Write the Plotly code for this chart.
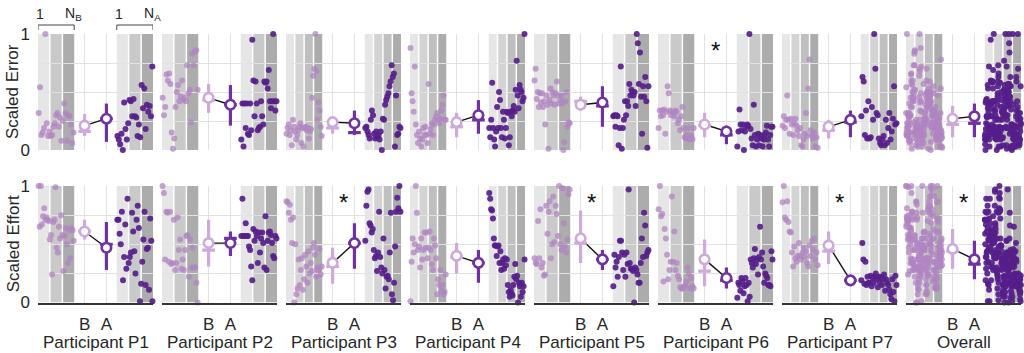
import plotly.graph_objects as go

# ---------------- data ----------------
panel_names = ["Participant P1", "Participant P2", "Participant P3", "Participant P4",
               "Participant P5", "Participant P6", "Participant P7", "Overall"]
n_bands = [3, 3, 4, 4, 3, 3, 4, 4]
row_titles = ["Scaled Error", "Scaled Effort"]
cond_labels = ["B", "A"]

# Scaled Error, individual trials (B = before, A = after)
err_b_p1 = [0.32,0.54,0.13,0.15,0.19,1.0,0.23,0.12,0.16,0.12,0.13,0.20,0.23,0.30,0.32,0.20,0.28,0.08,0.25,0.40,0.32,0.08,0.30,0.29,0.22,0.06,0.15]
err_a_p1 = [0.12,0.09,0.05,0.14,0.0,0.41,0.18,0.09,0.23,0.43,0.42,0.29,0.44,0.29,0.28,0.12,0.22,0.11,0.56,0.36,0.53,0.18,0.39,0.33,0.38,0.29,0.72]
err_b_p2 = [0.45,0.30,0.37,0.65,0.60,0.66,0.57,0.15,0.01,0.10,0.37,0.50,0.56,0.42,0.46,0.60,0.43,0.45,0.42,0.73,0.49,0.52,0.24,0.83,0.73,0.85,0.86,0.52]
err_a_p2 = [0.09,0.40,0.03,0.40,0.19,0.40,0.14,0.13,0.40,0.17,0.95,0.60,0.29,0.59,0.40,0.17,0.19,0.20,0.42,0.29,0.22,0.59,0.58,0.59,0.53,0.69,0.42,0.36,0.42,1.0,0.42,0.34,0.42]
err_b_p3 = [0.14,0.19,0.22,0.13,0.17,0.04,0.26,0.20,0.16,0.09,0.13,0.17,0.20,0.23,0.06,0.19,0.03,0.19,0.20,0.17,0.19,0.10,0.16,0.18,0.45,0.64,0.70,1.0,0.68,0.26,0.41,0.34,0.20,0.12]
err_a_p3 = [0.19,0.20,0.16,0.13,0.10,0.26,0.34,0.30,0.14,0.10,0.16,0.11,0.13,0.09,0.16,0.0,0.27,0.26,0.39,0.43,0.46,0.49,0.55,0.59,0.73,0.63,0.66,0.03,0.47,0.13,0.14,0.20,0.19]
err_b_p4 = [0.88,0.49,0.42,0.33,0.72,0.22,0.13,0.06,0.16,0.10,0.03,0.09,0.19,0.13,0.20,0.13,0.06,0.57,0.14,0.18,0.23,0.13,0.22,0.26,0.29,0.32,0.26,0.23,0.27,0.34,0.39,0.47,0.26,0.26]
err_a_p4 = [0.19,0.11,0.26,0.58,0.19,0.09,0.03,0.16,0.37,0.19,0.50,0.43,0.19,0.11,0.33,0.26,0.10,0.19,0.33,0.32,0.04,0.11,0.33,0.29,0.34,0.38,0.33,0.52,0.77,0.47,0.36,0.56,0.52,0.50,0.42,0.45,1.0]
err_b_p5 = [0.60,0.70,0.44,0.50,0.37,0.49,0.41,0.49,0.37,0.42,0.22,0.47,0.39,0.01,0.43,0.53,0.40,0.50,0.47,0.39,0.49,0.59,0.47,0.40,0.43,0.47,0.40,0.0,0.07,0.42,0.50,0.20,0.24,0.23]
err_a_p5 = [0.29,0.30,0.20,0.30,0.29,0.04,0.19,0.72,0.01,0.19,0.26,0.42,0.30,0.42,0.38,0.57,0.47,0.52,0.50,0.47,0.50,0.38,1.0,0.92,0.57,0.84,0.46,0.14,0.55,0.46,0.63,0.42,0.02,0.55]
err_b_p6 = [0.19,0.34,0.29,0.34,0.30,0.35,0.14,0.33,0.55,0.49,0.34,0.30,0.33,0.32,0.29,0.34,0.33,0.23,0.26,0.17,0.29,0.37,0.19,0.11,0.10,0.13,0.19,0.09,0.10,0.12,0.09,0.19]
err_a_p6 = [0.03,0.16,0.35,0.22,0.17,0.22,0.0,0.16,0.20,0.22,0.21,1.0,0.18,0.10,0.04,0.39,0.13,0.03,0.09,0.14,0.04,0.13,0.10,0.03,0.09,0.13,0.15,0.21,0.09,0.03,0.13,0.20,0.20]
err_b_p7 = [0.21,0.29,0.19,0.26,0.47,0.26,0.14,0.27,0.22,0.13,0.23,0.27,0.21,0.17,0.12,0.19,0.04,0.03,0.09,0.14,0.32,0.12,0.53,0.78,0.17,0.13,0.10,0.15,0.03,0.11,0.02]
err_a_p7 = [0.29,0.63,0.59,0.13,0.34,0.10,0.42,0.10,0.11,0.37,0.26,1.0,0.70,0.32,0.30,0.10,0.06,0.04,0.09,0.12,0.04,0.26,0.06,0.19,0.32,0.09,0.16,0.27,0.55,0.22,0.23]

# Scaled Effort, individual trials
eff_b_p1 = [1.0,0.65,1.0,0.67,0.74,0.81,0.71,0.73,0.71,0.70,0.54,0.58,0.24,0.69,0.71,0.99,0.47,0.43,0.65,0.55,0.75,0.58,0.27,0.57,0.64,0.50,0.34,0.62,0.38,0.64,0.62,0.53]
eff_a_p1 = [0.71,0.71,0.59,0.50,0.78,0.19,0.39,0.67,0.29,0.89,0.34,0.39,0.43,0.77,0.61,0.44,0.25,0.71,0.83,0.64,0.01,0.16,0.35,0.54,0.78,0.15,0.46,0.47,0.11,0.72,0.53,0.01]
eff_b_p2 = [1.0,0.94,0.37,0.78,0.77,0.35,0.78,0.33,0.34,0.71,0.28,0.34,0.73,0.45,0.54,0.29,0.37,0.28,0.45,0.57,0.58,0.22,0.54,0.30,0.47,0.30,0.30,0.17,0.0]
eff_a_p2 = [0.57,0.89,0.57,0.57,0.68,0.57,0.57,0.48,0.45,0.31,0.19,0.63,0.53,0.61,0.57,0.34,0.60,0.43,0.55,0.60,0.51,0.30,0.74,0.28,0.53,0.60,0.61,0.58,0.51,0.40,0.38,0.57,0.55]
eff_b_p3 = [0.87,0.86,0.77,0.84,0.71,0.51,0.73,0.0,0.50,0.07,0.12,0.37,0.15,0.28,0.38,0.11,0.20,0.41,0.31,0.17,0.44,0.25,0.34,0.27,0.47,0.51,0.41,0.22,0.30,0.28,0.46,0.24,0.31]
eff_a_p3 = [0.53,0.83,0.95,0.97,0.68,0.66,0.60,0.63,0.45,0.38,0.40,0.27,0.43,0.78,0.39,0.30,0.25,0.55,0.28,0.12,0.22,0.23,0.20,0.43,0.77,0.07,0.02,0.17,0.48,0.78,0.90,0.81,1.0,0.78]
eff_b_p4 = [0.01,0.35,0.55,0.43,0.50,1.0,0.77,0.45,0.48,0.30,0.55,0.37,0.45,0.60,0.47,0.60,0.38,0.47,0.61,0.45,0.33,0.28,0.55,0.49,0.38,0.07,0.20,0.15,0.28,0.10,0.15,0.07,0.09,0.24]
eff_a_p4 = [0.94,0.89,0.80,0.79,0.72,0.55,0.49,0.49,0.40,0.48,0.49,0.34,0.44,0.28,0.34,0.37,0.29,0.38,0.32,0.37,0.15,0.09,0.05,0.11,0.08,0.06,0.15,0.22,0.33,0.20,0.23,0.0,0.17,0.14,0.05,0.17,0.09,0.14,0.37]
eff_b_p5 = [0.38,0.34,0.33,0.70,0.38,0.80,0.30,0.34,0.23,0.24,0.83,0.59,0.78,0.87,0.38,0.50,0.91,0.52,0.83,0.76,0.57,1.0,0.50,0.45,0.98,0.68,0.48,0.43,0.54,0.93,0.97]
eff_a_p5 = [0.14,0.41,0.30,0.35,0.22,0.39,0.53,0.53,0.43,0.28,0.41,0.22,0.43,0.33,0.97,0.34,0.29,0.29,0.27,0.0,0.30,0.28,0.24,0.17,0.17,0.34,0.55,0.39,0.77,0.66,0.40,0.43,0.45]
eff_b_p6 = [0.80,1.0,0.74,0.76,0.18,0.63,0.55,0.41,0.20,0.28,0.35,0.91,0.35,0.61,0.28,0.34,0.23,0.20,0.13,0.12,0.12,0.14,0.14,0.18,0.30,0.25,0.12,0.21,0.14,0.12]
eff_a_p6 = [0.04,0.17,0.15,0.10,0.21,0.18,0.08,0.14,0.21,0.15,0.01,0.17,0.05,0.37,0.34,0.30,0.38,0.46,0.33,0.37,0.24,0.39,0.65,0.37,0.43,0.31,0.17,0.25,0.23,0.21,0.15,0.15,0.14,0.44,0.37]
eff_b_p7 = [0.86,1.0,0.73,0.71,0.87,0.69,0.61,0.60,0.43,0.31,0.48,0.38,0.35,0.40,0.51,0.40,0.37,0.43,0.47,0.39,0.44,0.34,0.31,0.49,0.40,0.53,0.45,0.55,0.37,0.43,0.32]
eff_a_p7 = [0.19,0.51,0.37,0.16,0.35,0.15,0.22,0.17,0.17,0.23,0.14,0.21,0.17,0.22,0.25,0.20,0.13,0.22,0.17,0.22,0.15,0.20,0.24,0.10,0.20,0.17,0.15,0.11,0.07,0.03,0.20,0.09,0.01,0.23,0.15]

# Summary statistics per panel (P1..P7, Overall): mean (circle), median (bar), spread (line)
err_mean_b = [0.21, 0.45, 0.24, 0.24, 0.39, 0.22, 0.20, 0.27]
err_med_b  = [0.16, 0.43, 0.19, 0.20, 0.42, 0.21, 0.17, 0.22]
err_lo_b   = [0.12, 0.32, 0.14, 0.11, 0.34, 0.11, 0.10, 0.11]
err_hi_b   = [0.31, 0.57, 0.26, 0.32, 0.46, 0.32, 0.26, 0.38]
err_mean_a = [0.27, 0.39, 0.23, 0.30, 0.41, 0.16, 0.26, 0.29]
err_med_a  = [0.27, 0.39, 0.15, 0.26, 0.38, 0.13, 0.24, 0.23]
err_lo_a   = [0.07, 0.21, 0.13, 0.14, 0.20, 0.05, 0.11, 0.11]
err_hi_a   = [0.40, 0.56, 0.34, 0.43, 0.55, 0.21, 0.34, 0.40]

eff_mean_b = [0.61, 0.51, 0.34, 0.40, 0.55, 0.37, 0.49, 0.46]
eff_med_b  = [0.61, 0.45, 0.31, 0.39, 0.51, 0.27, 0.44, 0.44]
eff_lo_b   = [0.54, 0.31, 0.16, 0.25, 0.34, 0.14, 0.33, 0.29]
eff_hi_b   = [0.71, 0.71, 0.47, 0.51, 0.79, 0.54, 0.61, 0.63]
eff_mean_a = [0.47, 0.51, 0.51, 0.34, 0.37, 0.21, 0.19, 0.37]
eff_med_a  = [0.50, 0.55, 0.51, 0.34, 0.37, 0.19, 0.19, 0.33]
eff_lo_a   = [0.28, 0.40, 0.29, 0.17, 0.28, 0.12, 0.17, 0.20]
eff_hi_a   = [0.69, 0.61, 0.68, 0.45, 0.45, 0.30, 0.21, 0.53]

err_sig = [0, 0, 0, 0, 0, 1, 0, 0]
eff_sig = [0, 0, 1, 0, 1, 0, 1, 1]

# ---------------- assemble ----------------
err_b = [err_b_p1, err_b_p2, err_b_p3, err_b_p4, err_b_p5, err_b_p6, err_b_p7]
err_a = [err_a_p1, err_a_p2, err_a_p3, err_a_p4, err_a_p5, err_a_p6, err_a_p7]
eff_b = [eff_b_p1, eff_b_p2, eff_b_p3, eff_b_p4, eff_b_p5, eff_b_p6, eff_b_p7]
eff_a = [eff_a_p1, eff_a_p2, eff_a_p3, eff_a_p4, eff_a_p5, eff_a_p6, eff_a_p7]
# Overall = all participants' trials pooled
err_b = err_b + [sum(err_b, [])]
err_a = err_a + [sum(err_a, [])]
eff_b = eff_b + [sum(eff_b, [])]
eff_a = eff_a + [sum(eff_a, [])]

rows = [
    dict(b=err_b, a=err_a, mb=err_mean_b, db=err_med_b, lb=err_lo_b, hb=err_hi_b,
         ma=err_mean_a, da=err_med_a, la=err_lo_a, ha=err_hi_a, sig=err_sig),
    dict(b=eff_b, a=eff_a, mb=eff_mean_b, db=eff_med_b, lb=eff_lo_b, hb=eff_hi_b,
         ma=eff_mean_a, da=eff_med_a, la=eff_lo_a, ha=eff_hi_a, sig=eff_sig),
]

# ---------------- layout constants ----------------
W, H = 1024, 353
FONT = "Liberation Sans, Arial, Helvetica, sans-serif"
TXT = "#262626"
left_px = [38 + 124 * i for i in range(8)]
panel_w = 115
row_px = [(34, 150), (186, 302.5)]
XB, XA = 4.05, 5.95
B_REG = (0.0, 3.15)
A_REG = (6.85, 10.0)
GAP = 0.13
PT_B = "rgba(176,132,194,0.75)"
PT_A = "rgba(86,30,138,0.92)"
SUM_B = "#cfa9dc"
SUM_A = "#7032a3"
FS = 17

def ydom(r):
    t, b = row_px[r]
    return [1 - b / H, 1 - t / H]

def gray(i, n):
    lo, hi = 230, 172
    v = round(lo + (hi - lo) * (i / (n - 1) if n > 1 else 0))
    return f"rgb({v},{v},{v})"

def spread(vals, reg):
    n = len(vals)
    s, e = reg
    return [s + (i + 0.5) / n * (e - s) for i in range(n)]

fig = go.Figure()
shapes = []
annotations = []
layout_axes = {}

for r in range(2):
    d = rows[r]
    for p in range(8):
        k = r * 8 + p + 1
        xs = "x" if k == 1 else f"x{k}"
        ys = "y" if k == 1 else f"y{k}"
        # bands
        for reg in (B_REG, A_REG):
            n = n_bands[p]
            bw = (reg[1] - reg[0] - (n - 1) * GAP) / n
            for i in range(n):
                x0 = reg[0] + i * (bw + GAP)
                shapes.append(dict(type="rect", xref=xs, yref=ys, x0=x0, x1=x0 + bw,
                                   y0=0, y1=1, fillcolor=gray(i, n), line=dict(width=0),
                                   layer="below"))
        # individual trials
        fig.add_trace(go.Scatter(x=spread(d["b"][p], B_REG), y=d["b"][p], mode="markers",
                                 marker=dict(size=6, color=PT_B, line=dict(width=0)),
                                 xaxis=xs, yaxis=ys, cliponaxis=False, hoverinfo="y"))
        fig.add_trace(go.Scatter(x=spread(d["a"][p], A_REG), y=d["a"][p], mode="markers",
                                 marker=dict(size=6, color=PT_A, line=dict(width=0)),
                                 xaxis=xs, yaxis=ys, cliponaxis=False, hoverinfo="y"))
        # connecting line
        fig.add_trace(go.Scatter(x=[XB, XA], y=[d["mb"][p], d["ma"][p]], mode="lines",
                                 line=dict(color="#111111", width=1.4),
                                 xaxis=xs, yaxis=ys, hoverinfo="skip"))
        # spread + median bars
        for xc, lo, hi, med, col in ((XB, d["lb"][p], d["hb"][p], d["db"][p], SUM_B),
                                     (XA, d["la"][p], d["ha"][p], d["da"][p], SUM_A)):
            fig.add_trace(go.Scatter(x=[xc, xc, None, xc - 0.55, xc + 0.55],
                                     y=[lo, hi, None, med, med], mode="lines",
                                     line=dict(color=col, width=3.2),
                                     xaxis=xs, yaxis=ys, hoverinfo="skip"))
        # mean circles
        fig.add_trace(go.Scatter(x=[XB, XA], y=[d["mb"][p], d["ma"][p]], mode="markers",
                                 marker=dict(size=9.5, color="white",
                                             line=dict(width=2.6, color=[SUM_B, SUM_A])),
                                 xaxis=xs, yaxis=ys, hoverinfo="y"))
        # axes
        xd = [left_px[p] / W, (left_px[p] + panel_w) / W]
        layout_axes["xaxis" if k == 1 else f"xaxis{k}"] = dict(
            domain=xd, range=[0, 10], anchor=ys, tickvals=[XB, XA], ticktext=cond_labels,
            showticklabels=(r == 1), ticks="", showgrid=True, gridcolor="#e2e2e2",
            gridwidth=1, zeroline=False, showline=(r == 1), linecolor="#333333",
            linewidth=1.5, tickfont=dict(size=FS, color=TXT, family=FONT),
            ticklabelstandoff=5, automargin=False, fixedrange=True)
        layout_axes["yaxis" if k == 1 else f"yaxis{k}"] = dict(
            domain=ydom(r), range=[0, 1], anchor=xs, tickvals=[0, 0.25, 0.5, 0.75, 1],
            ticktext=["0", "", "", "", "1"], showticklabels=(p == 0), ticks="",
            showgrid=True, gridcolor="#e2e2e2", gridwidth=1, zeroline=False,
            showline=False, tickfont=dict(size=FS, color=TXT, family=FONT),
            ticklabelstandoff=7, automargin=False, fixedrange=True)
        # significance
        if d["sig"][p]:
            annotations.append(dict(x=5.0, y=0.86, xref=xs, yref=ys, text="*",
                                    showarrow=False, font=dict(size=24, color="#111111", family=FONT),
                                    xanchor="center", yanchor="middle"))
        # panel titles
        if r == 1:
            annotations.append(dict(x=(left_px[p] + panel_w / 2) / W, y=1 - 342 / H,
                                    xref="paper", yref="paper", text=panel_names[p],
                                    showarrow=False, font=dict(size=FS, color=TXT, family=FONT),
                                    xanchor="center", yanchor="middle"))

# row titles
for r, (t, b) in enumerate(row_px):
    annotations.append(dict(x=13 / W, y=1 - (t + b) / 2 / H, xref="paper", yref="paper",
                            text=row_titles[r], textangle=-90, showarrow=False,
                            font=dict(size=FS, color=TXT, family=FONT),
                            xanchor="center", yanchor="middle"))

# index brackets above first panel
yb = 1 - 25 / H
yt = 1 - 30 / H
for reg, lab in ((B_REG, "N<sub>B</sub>"), (A_REG, "N<sub>A</sub>")):
    shapes.append(dict(type="line", xref="x", yref="paper", x0=reg[0], x1=reg[1], y0=yb, y1=yb,
                       line=dict(color="#444444", width=1)))
    for xe in reg:
        shapes.append(dict(type="line", xref="x", yref="paper", x0=xe, x1=xe, y0=yb, y1=yt,
                           line=dict(color="#444444", width=1)))
    annotations.append(dict(x=reg[0] + 0.15, y=1 - 14 / H, xref="x", yref="paper", text="1",
                            showarrow=False, font=dict(size=14, color=TXT, family=FONT),
                            xanchor="center", yanchor="middle"))
    annotations.append(dict(x=reg[1] - 0.05, y=1 - 14 / H, xref="x", yref="paper", text=lab,
                            showarrow=False, font=dict(size=14, color=TXT, family=FONT),
                            xanchor="center", yanchor="middle"))

fig.update_layout(width=W, height=H, margin=dict(l=0, r=0, t=0, b=0, autoexpand=False),
                  paper_bgcolor="white", plot_bgcolor="white", showlegend=False,
                  shapes=shapes, annotations=annotations,
                  font=dict(family=FONT, color=TXT), **layout_axes)

fig.write_html("out.html", config={"displayModeBar": False},
               post_script="document.body.style.margin='0';document.body.style.overflow='hidden';")
